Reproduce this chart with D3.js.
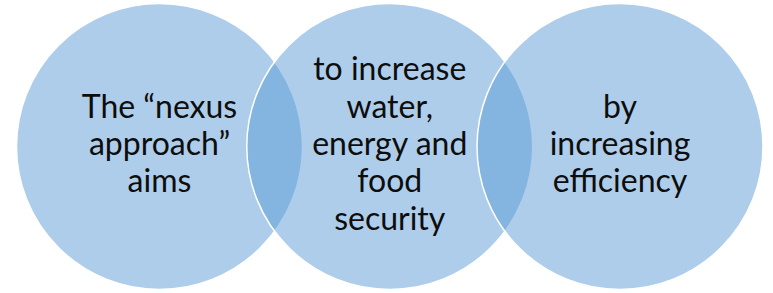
<!DOCTYPE html>
<html>
<head>
<meta charset="utf-8">
<script src="https://cdn.jsdelivr.net/npm/d3@7"></script>
<style>
  html, body { margin: 0; padding: 0; background: #fff; }
  svg { display: block; }
</style>
</head>
<body>
<div id="chart"></div>
<script>
// the three steps of the diagram, one array of lines per circle
var steps = ["aims", "increase", "efficiency"];
var labels = [
  ["The \u201cnexus", "approach\u201d", "aims"],
  ["to increase", "water,", "energy and", "food", "security"],
  ["by", "increasing", "efficiency"]
];

var width = 773,
    height = 293,
    r = 143,
    cy = 146.5,
    lineH = 37.3;

var svg = d3.select("#chart").append("svg")
    .attr("width", width)
    .attr("height", height);

var x = d3.scalePoint()
    .domain(steps)
    .range([159.5, 620]);

var g = svg.selectAll(".step")
    .data(steps)
    .enter().append("g")
      .attr("class", "step");

g.append("circle")
    .attr("cx", function(d) { return x(d); })
    .attr("cy", cy)
    .attr("r", r)
    .attr("fill", "#5b9bd5")
    .attr("fill-opacity", 0.5)
    .attr("stroke", "#fff")
    .attr("stroke-width", 1.5);

// text goes on top of all circles
var t = svg.selectAll(".label")
    .data(steps)
    .enter().append("text")
      .attr("class", "label")
      .attr("text-anchor", "middle")
      .attr("font-family", "Lato, 'Open Sans', sans-serif")
      .attr("font-size", 32)
      .attr("fill", "#0d0d0d");

t.each(function(d, i) {
  var lines = labels[i],
      mid = (lines.length - 1) / 2;
  d3.select(this).selectAll("tspan")
    .data(lines)
    .enter().append("tspan")
      .attr("x", x(d))
      .attr("y", function(l, j) { return cy + 8.5 + (j - mid) * lineH; })
      .text(function(l) { return l; });
});
</script>
</body>
</html>
